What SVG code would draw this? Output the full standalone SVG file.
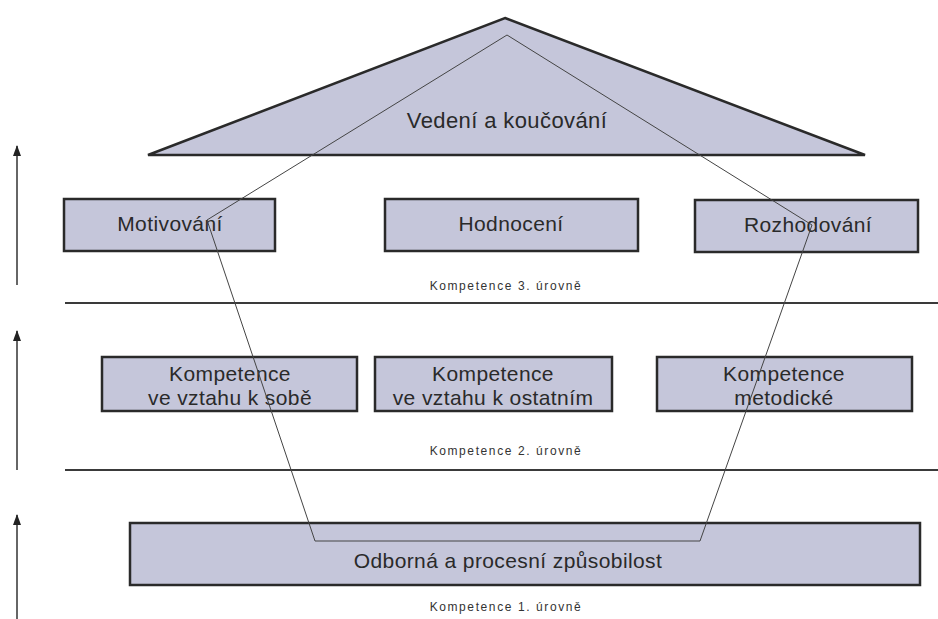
<svg xmlns="http://www.w3.org/2000/svg" width="938" height="619" viewBox="0 0 938 619">
<defs>
<marker id="ah" markerWidth="11" markerHeight="8" refX="10" refY="4" orient="auto" markerUnits="userSpaceOnUse">
<path d="M0,0 L11,4 L0,8 Z" fill="#222"/>
</marker>
</defs>
<style>
.box{fill:#c5c6da;stroke:#2a2a2a;stroke-width:2.5}
.tri{fill:#c5c6da;stroke:#2a2a2a;stroke-width:2.5;stroke-linejoin:miter}
.t{font-family:"Liberation Sans",Arial,sans-serif;font-size:21px;fill:#2a2a2a;text-anchor:middle;letter-spacing:0.4px}
.s{font-family:"Liberation Sans",Arial,sans-serif;font-size:12px;fill:#333;text-anchor:middle;letter-spacing:1.6px}
.hl{stroke:#3a3a3a;stroke-width:2}
.ax{stroke:#333;stroke-width:1.5;fill:none}
.inner{stroke:#444;stroke-width:1;fill:none}
</style>
<rect width="938" height="619" fill="#ffffff"/>

<g id="roof">
<polygon class="tri" points="505,18 865,155 148,155"/>
<text class="t" x="507" y="128" style="font-size:22px">Vedení a koučování</text>
</g>

<g id="motivovani">
<rect class="box" x="64" y="199" width="211" height="52"/>
<text class="t" x="170" y="231">Motivování</text>
</g>
<g id="hodnoceni">
<rect class="box" x="385" y="199" width="253" height="52"/>
<text class="t" x="511" y="231">Hodnocení</text>
</g>
<g id="rozhodovani">
<rect class="box" x="695" y="200" width="223" height="52"/>
<text class="t" x="808" y="232">Rozhodování</text>
</g>

<g id="komp-sobe">
<rect class="box" x="102" y="357" width="255" height="54"/>
<text class="t" x="230" y="381">Kompetence</text>
<text class="t" x="230" y="405">ve vztahu k sobě</text>
</g>
<g id="komp-ostatnim">
<rect class="box" x="375" y="357" width="237" height="54"/>
<text class="t" x="493" y="381">Kompetence</text>
<text class="t" x="493" y="405">ve vztahu k ostatním</text>
</g>
<g id="komp-metodicke">
<rect class="box" x="657" y="357" width="255" height="54"/>
<text class="t" x="784" y="381">Kompetence</text>
<text class="t" x="784" y="405">metodické</text>
</g>

<g id="odborna">
<rect class="box" x="130" y="523" width="790" height="62"/>
<text class="t" x="508" y="568">Odborná a procesní způsobilost</text>
</g>

<g id="labels">
<text class="s" x="506" y="290">Kompetence 3. úrovně</text>
<text class="s" x="506" y="455">Kompetence 2. úrovně</text>
<text class="s" x="506" y="611">Kompetence 1. úrovně</text>
</g>

<g id="connectors">
<line class="hl" x1="65" y1="303" x2="938" y2="303"/>
<line class="hl" x1="65" y1="470" x2="938" y2="470"/>
<line class="ax" x1="17" y1="285" x2="17" y2="146" marker-end="url(#ah)"/>
<line class="ax" x1="17" y1="470" x2="17" y2="331" marker-end="url(#ah)"/>
<line class="ax" x1="17" y1="619" x2="17" y2="515" marker-end="url(#ah)"/>
<polygon class="inner" points="507,35 812,225 700,541 315,541 207,220"/>
</g>
</svg>
